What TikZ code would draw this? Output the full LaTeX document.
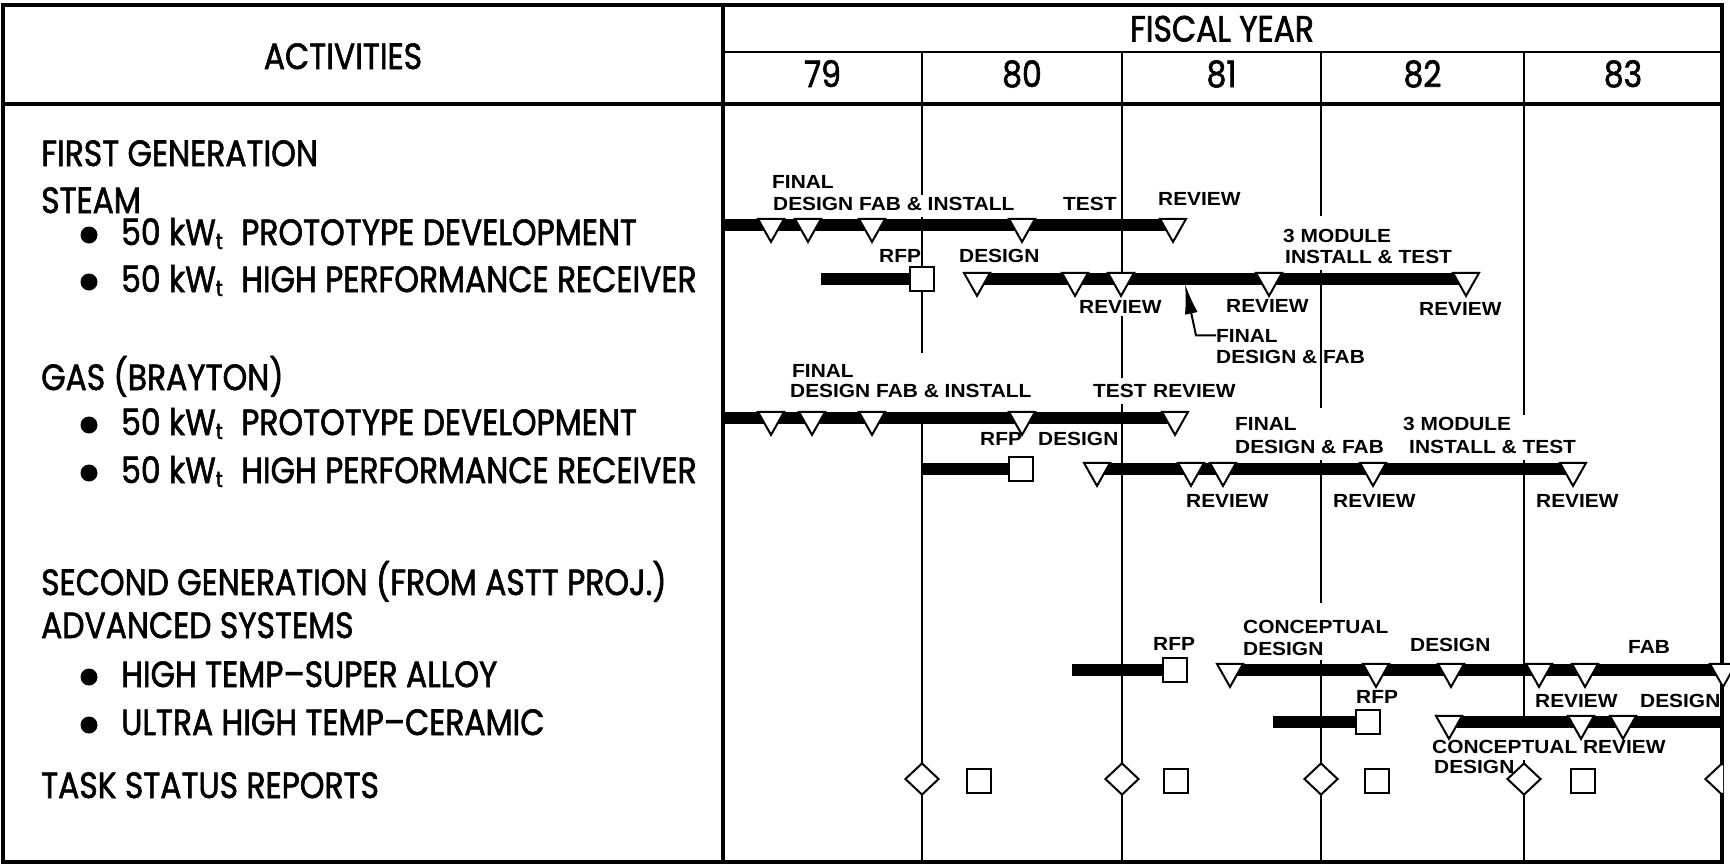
\documentclass[tikz,border=0pt]{standalone}
\usepackage{fontspec}
\setmainfont{Poppins}[FakeStretch=0.86,FakeBold=1.6]
\newfontfamily\labfont{Liberation Sans}[FakeStretch=1.1]
\usetikzlibrary{shapes.geometric,arrows.meta}
\pgfdeclarelayer{bg}
\pgfsetlayers{bg,main}
\newcommand\kwt{kW\raisebox{-0.2ex}{\fontsize{22}{22}\selectfont t}}
\begin{document}
\begin{tikzpicture}[x=1pt,y=-1pt,
  frame/.style={line width=3.6pt},
  gridline/.style={line width=2.4pt},
  bar/.style={line width=12.5pt},
  tri/.style={draw,fill=white,line width=2pt,isosceles triangle,isosceles triangle stretches,shape border rotate=270,minimum width=26pt,minimum height=23pt,inner sep=0pt},
  sq/.style={draw,fill=white,line width=2pt,rectangle,minimum size=24pt,inner sep=0pt},
  dia/.style={draw,fill=white,line width=2pt,diamond,minimum width=34pt,minimum height=32pt,inner sep=0pt},
  lab/.style={font=\labfont\bfseries\fontsize{19}{19}\selectfont,inner sep=0pt,anchor=base west},
  txt/.style={font=\fontsize{36.5}{36.5}\selectfont,inner sep=0pt,anchor=base west},
  hdr/.style={font=\fontsize{36.5}{36.5}\selectfont,inner sep=0pt,anchor=base},
  dot/.style={circle,fill=black,minimum size=17pt,inner sep=0pt},
  leader/.style={line width=2pt,-{Latex[length=30pt,width=13pt]}}
]
\useasboundingbox (0,0) rectangle (1730,865);

% ---------- header texts ----------
\node[hdr] (act) at (343,69) {ACTIVITIES};
\node[hdr] (fy) at (1222,41.5) {FISCAL YEAR};
\node[hdr] (y79) at (822.5,87) {79};
\node[hdr] (y80) at (1022,87) {80};
\node[hdr] (y81) at (1221.5,87) {81};
\node[hdr] (y82) at (1422.5,87) {82};
\node[hdr] (y83) at (1623,87) {83};

% ---------- activities ----------
\node[txt] (fg) at (41,166) {FIRST GENERATION};
\node[txt] (steam) at (41,213) {STEAM};
\node[dot] (b1) at (89,235) {};
\node[txt] (b1a) at (121,245) {50 \kwt};
\node[txt] (b1b) at (241,245) {PROTOTYPE DEVELOPMENT};
\node[dot] (b2) at (89,282) {};
\node[txt] (b2a) at (121,292) {50 \kwt};
\node[txt] (b2b) at (241,292) {HIGH PERFORMANCE RECEIVER};
\node[txt] (gas) at (41,390) {GAS (BRAYTON)};
\node[dot] (b3) at (89,425) {};
\node[txt] (b3a) at (121,435) {50 \kwt};
\node[txt] (b3b) at (241,435) {PROTOTYPE DEVELOPMENT};
\node[dot] (b4) at (89,473) {};
\node[txt] (b4a) at (121,483) {50 \kwt};
\node[txt] (b4b) at (241,483) {HIGH PERFORMANCE RECEIVER};
\node[txt] (sg) at (41,595) {SECOND GENERATION (FROM ASTT PROJ.)};
\node[txt] (adv) at (41,638) {ADVANCED SYSTEMS};
\node[dot] (b5) at (89,677) {};
\node[txt] (b5a) at (121,687) {HIGH TEMP--SUPER ALLOY};
\node[dot] (b6) at (89,725) {};
\node[txt] (b6a) at (121,735) {ULTRA HIGH TEMP--CERAMIC};
\node[txt] (tsr) at (41,798) {TASK STATUS REPORTS};

% ---------- milestones ----------
% row 1
\coordinate (r1s) at (723,225);
\node[tri] (r1a) at (771,226.5) {};
\node[tri] (r1b) at (808,226.5) {};
\node[tri] (r1c) at (872,226.5) {};
\node[tri] (r1d) at (1022,226.5) {};
\node[tri] (r1e) at (1173,226.5) {};
% row 2
\coordinate (r2s) at (821,279);
\node[sq] (r2q) at (922,279) {};
\node[tri] (r2a) at (977,280.5) {};
\node[tri] (r2b) at (1075,280.5) {};
\node[tri] (r2c) at (1121,280.5) {};
\node[tri] (r2d) at (1269,280.5) {};
\node[tri] (r2e) at (1466,280.5) {};
% row 3
\coordinate (r3s) at (723,418);
\node[tri] (r3a) at (771,419.5) {};
\node[tri] (r3b) at (812,419.5) {};
\node[tri] (r3c) at (872,419.5) {};
\node[tri] (r3d) at (1022,419.5) {};
\node[tri] (r3e) at (1175,419.5) {};
% row 4
\coordinate (r4s) at (922,469);
\node[sq] (r4q) at (1021,469) {};
\node[tri] (r4a) at (1097,470.5) {};
\node[tri] (r4b) at (1191,470.5) {};
\node[tri] (r4c) at (1223,470.5) {};
\node[tri] (r4d) at (1373,470.5) {};
\node[tri] (r4e) at (1573,470.5) {};
% row 5
\coordinate (r5s) at (1072,670);
\coordinate (r5t) at (1722,670);
\node[sq] (r5q) at (1174.5,670) {};
\node[tri] (r5a) at (1230,671.5) {};
\node[tri] (r5b) at (1376,671.5) {};
\node[tri] (r5c) at (1451,671.5) {};
\node[tri] (r5d) at (1539,671.5) {};
\node[tri] (r5e) at (1585,671.5) {};
\node[tri] (r5f) at (1723,671.5) {};
% row 6
\coordinate (r6s) at (1273,722);
\coordinate (r6t) at (1722,722);
\node[sq] (r6q) at (1368,722) {};
\node[tri] (r6a) at (1449,723.5) {};
\node[tri] (r6b) at (1581,723.5) {};
\node[tri] (r6c) at (1623,723.5) {};
% row 7
\node[dia] (d1) at (922,779) {};
\node[dia] (d2) at (1122,779) {};
\node[dia] (d3) at (1321,779) {};
\node[dia] (d4) at (1524,779) {};
\begin{scope}
\clip (0,0) rectangle (1723,865);
\node[dia] (d5) at (1722,779) {};
\end{scope}
\node[sq] (s1) at (979,781) {};
\node[sq] (s2) at (1176,781) {};
\node[sq] (s3) at (1377,781) {};
\node[sq] (s4) at (1583,781) {};

% ---------- labels ----------
\node[lab] (l1a) at (772,188) {FINAL};
\node[lab] (l1b) at (773,210) {DESIGN};
\node[lab] (l1c) at (859,210) {FAB \& INSTALL};
\node[lab] (l1d) at (1063,210) {TEST};
\node[lab] (l1e) at (1158,205) {REVIEW};

\node[lab] (l2a) at (879,262) {RFP};
\node[lab] (l2b) at (959,262) {DESIGN};
\node[lab] (l2c) at (1283,242) {3 MODULE};
\node[lab] (l2d) at (1285,263) {INSTALL \& TEST};
\node[lab] (l2e) at (1079,313) {REVIEW};
\node[lab] (l2f) at (1226,312) {REVIEW};
\node[lab] (l2g) at (1419,315) {REVIEW};
\node[lab] (fin2) at (1216,342) {FINAL};
\node[lab] (fin2b) at (1216,363) {DESIGN \& FAB};

\node[lab] (l3a) at (792,377) {FINAL};
\node[lab] (l3b) at (790,397) {DESIGN};
\node[lab] (l3c) at (876,397) {FAB \& INSTALL};
\node[lab] (l3d) at (1093,397) {TEST};
\node[lab] (l3e) at (1153,397) {REVIEW};

\node[lab] (l4a) at (980,445) {RFP};
\node[lab] (l4b) at (1038,445) {DESIGN};
\node[lab] (l4c) at (1235,430) {FINAL};
\node[lab] (l4d) at (1235,453) {DESIGN \& FAB};
\node[lab] (l4e) at (1403,430) {3 MODULE};
\node[lab] (l4f) at (1409,453) {INSTALL \& TEST};
\node[lab] (l4g) at (1186,507) {REVIEW};
\node[lab] (l4h) at (1333,507) {REVIEW};
\node[lab] (l4i) at (1536,507) {REVIEW};

\node[lab] (l5a) at (1153,650) {RFP};
\node[lab] (l5b) at (1243,633) {CONCEPTUAL};
\node[lab] (l5c) at (1243,655) {DESIGN};
\node[lab] (l5d) at (1410,651) {DESIGN};
\node[lab] (l5e) at (1628,653) {FAB};

\node[lab] (l6a) at (1356,703) {RFP};
\node[lab] (l6b) at (1535,707) {REVIEW};
\node[lab] (l6c) at (1640,707) {DESIGN};
\node[lab] (l6d) at (1432,753) {CONCEPTUAL REVIEW};
\node[lab] (l6e) at (1434,773) {DESIGN};

% leader arrow
\coordinate (arrtip) at (1185,284);
\draw[leader] (fin2.west) -- ++(-20,0) -- (arrtip);

% ---------- background: frame, grid, bars ----------
\begin{pgfonlayer}{bg}
\draw[frame] (3,5) rectangle (1722,862);
\draw[frame] (723,5) -- (723,862);
\draw[line width=2.6pt] (723,52) -- (1722,52);
\draw[line width=4.5pt] (3,104) -- (1722,104);
\draw[gridline] (922,52) -- (922,195) (922,217) -- (922,353) (922,412) -- (922,862);
\draw[gridline] (1122,52) -- (1122,292) (1122,316) -- (1122,378) (1122,404) -- (1122,862);
\draw[gridline] (1321,52) -- (1321,216) (1321,270) -- (1321,408) (1321,460) -- (1321,603) (1321,660) -- (1321,862);
\draw[gridline] (1524,52) -- (1524,415) (1524,460) -- (1524,728) (1524,760) -- (1524,862);
% bars
\draw[bar] (r1s) -- (r1s -| r1e);
\draw[bar] (r2s) -- (r2s -| r2q) (r2s -| r2a) -- (r2s -| r2e);
\draw[bar] (r3s) -- (r3s -| r3e);
\draw[bar] (r4s) -- (r4s -| r4q) (r4s -| r4a) -- (r4s -| r4e);
\draw[bar] (r5s) -- (r5s -| r5q) (r5s -| r5a) -- (r5t);
\draw[bar] (r6s) -- (r6s -| r6q) (r6s -| r6a) -- (r6t);
\end{pgfonlayer}
\end{tikzpicture}
\end{document}
